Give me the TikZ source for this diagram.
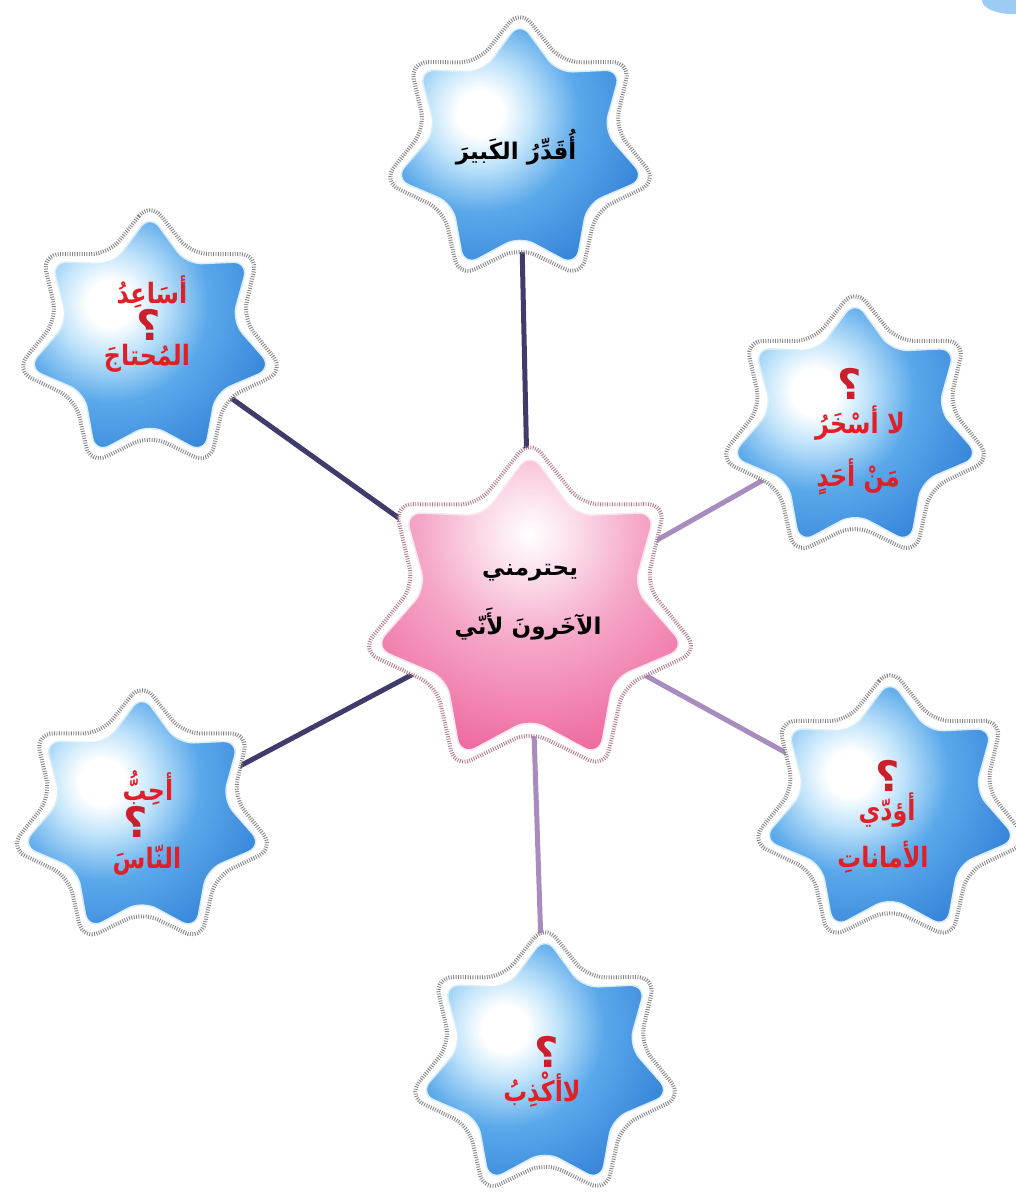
\documentclass[tikz,border=0pt]{standalone}
\usepackage{fontspec}
\usetikzlibrary{shapes.geometric,backgrounds,calc}
\newfontfamily\arabicfont[Script=Arabic]{DejaVu Sans}
\TeXXeTstate=1
\definecolor{sbA}{HTML}{BFE3FA}
\definecolor{sbB}{HTML}{5AA8EA}
\definecolor{sbC}{HTML}{2E7CD5}
\definecolor{sbD}{HTML}{1A54A8}
\definecolor{sbRing}{HTML}{D8ECFA}
\definecolor{pkA}{HTML}{FCE3EF}
\definecolor{pkB}{HTML}{F5A6C7}
\definecolor{pkC}{HTML}{EE6CA1}
\definecolor{pkD}{HTML}{E02C6C}
\definecolor{dkline}{HTML}{3F3B6B}
\definecolor{ltline}{HTML}{A88CBE}
\definecolor{redtxt}{HTML}{E01F26}
\definecolor{qmred}{HTML}{C9202B}
\definecolor{dotgray}{HTML}{858585}
\definecolor{dotpink}{HTML}{B07A90}
\pgfdeclareradialshading{bluestar}{\pgfpoint{0bp}{0bp}}{color(0bp)=(white); color(3bp)=(white); color(7bp)=(sbA); color(13bp)=(sbB); color(25bp)=(sbC); color(50bp)=(sbD)}
\pgfdeclareradialshading{pinkstar}{\pgfpoint{0bp}{0bp}}{color(0bp)=(white); color(4bp)=(pkA); color(12bp)=(pkB); color(24bp)=(pkC); color(45bp)=(pkD); color(50bp)=(pkD)}
\tikzset{
  starborder/.style={star, star points=7, star point ratio=1.45, minimum size=#1, inner sep=0pt,
    fill=white, draw=dotgray, line width=4pt, dash pattern=on 0.9pt off 1.5pt, rounded corners=18pt},
  pinkborder/.style={starborder=#1, draw=dotpink},
  bluefill/.style={star, star points=7, star point ratio=1.5, minimum size=#1, inner sep=0pt,
    rounded corners=16pt, draw=sbRing, line width=1.5pt,
    path picture={\shade[shading=bluestar] ($(path picture bounding box.center)+(-40,-30)$) circle (190pt);}},
  pinkfill/.style={star, star points=7, star point ratio=1.5, minimum size=#1, inner sep=0pt,
    rounded corners=17pt, draw=pkA, line width=1.5pt,
    path picture={\shade[shading=pinkstar] ($(path picture bounding box.center)+(0,-70)$) circle (230pt);}},
  bk/.style={font=\arabicfont\bfseries\fontsize{23}{26}\selectfont, text=black, inner sep=0pt},
  rd/.style={font=\arabicfont\bfseries\fontsize{28}{30}\selectfont, text=redtxt, inner sep=0pt, xscale=0.85, transform shape},
  qm/.style={font=\arabicfont\bfseries\fontsize{42}{44}\selectfont, text=qmred, inner sep=0pt},
  dk/.style={draw=dkline, line width=5pt},
  lt/.style={draw=ltline, line width=5pt},
}
\begin{document}
\begin{tikzpicture}[x=1pt,y=-1pt]
\useasboundingbox (0,0) rectangle (1016,1201);
% stars: borders then fills
\node[starborder=282pt] (Tb)  at (520,150) {};
\node[bluefill=258pt]   (T)   at (520,150) {};
\node[starborder=276pt] (ULb) at (150,340) {};
\node[bluefill=252pt]   (UL)  at (150,340) {};
\node[starborder=280pt] (URb) at (855,428) {};
\node[bluefill=256pt]   (UR)  at (855,428) {};
\node[starborder=272pt] (LLb) at (142,818) {};
\node[bluefill=248pt]   (LL)  at (142,818) {};
\node[starborder=286pt] (LRb) at (890,810) {};
\node[bluefill=262pt]   (LR)  at (890,810) {};
\node[starborder=282pt] (Bb)  at (545,1065) {};
\node[bluefill=258pt]   (B)   at (545,1065) {};
\node[pinkborder=346pt] (Cb)  at (530,612) {};
\node[pinkfill=320pt]   (C)   at (530,612) {};
% connectors behind
\begin{scope}[on background layer]
  \fill[white] (0,0) rectangle (1016,1201);
  \fill[sbB!60!white] (1012,0) ellipse (30pt and 14pt);
  \draw[dk] (C.center) -- (T.center);
  \draw[dk] (C.center) -- (UL.center);
  \draw[dk] (C.center) -- (LL.center);
  \draw[lt] (C.center) -- (UR.center);
  \draw[lt] (C.center) -- (LR.center);
  \draw[lt] (C.center) -- (B.center);
\end{scope}
% texts
\node[bk] (tT) at (516,147) {\beginR أُقَدِّرُ الكَبيرَ\endR};
\node[bk] (tC1) at (530,573) {\beginR يحترمني\endR};
\node[bk] (tC2) at (528,624) {\beginR الآخَرونَ لأَنّي\endR};
\node[rd] (tUL1) at (152,292) {\beginR أسَاعِدُ\endR};
\node[rd] (tUL2) at (147,358) {\beginR المُحتاجَ\endR};
\node[rd] (tUR1) at (860,423) {\beginR لا أسْخَرُ\endR};
\node[rd] (tUR2) at (858,477) {\beginR مَنْ أحَدٍ\endR};
\node[rd] (tLL1) at (148,788) {\beginR أحِبُّ\endR};
\node[rd] (tLL2) at (147,860) {\beginR النّاسَ\endR};
\node[rd] (tLR1) at (887,810) {\beginR أؤدّي\endR};
\node[rd] (tLR2) at (883,857) {\beginR الأماناتِ\endR};
\node[rd] (tB)  at (542,1090) {\beginR لاأكْذِبُ\endR};
% red question marks
\node[qm] (qUL) at (149,325) {؟};
\node[qm] (qUR) at (850,384) {؟};
\node[qm] (qLL) at (136,822) {؟};
\node[qm] (qLR) at (888,776) {؟};
\node[qm] (qB)  at (547,1052) {؟};
\end{tikzpicture}
\end{document}
